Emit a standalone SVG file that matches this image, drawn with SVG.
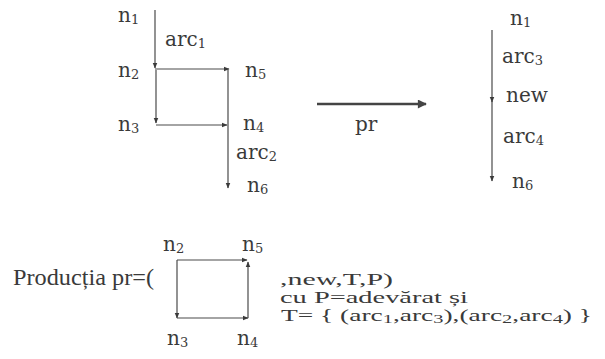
<svg xmlns="http://www.w3.org/2000/svg" width="605" height="359" viewBox="0 0 605 359">
<defs>
<style>
text{font-family:"DejaVu Serif","Liberation Serif",serif;fill:#3a3a3a;}
.lb{font-size:20px;}
.sb{font-size:13px;}
.tx{font-family:"Liberation Serif","DejaVu Serif",serif;font-size:17.5px;}
.pr{font-family:"Liberation Serif",serif;font-size:24px;}
.ln{stroke:#4a4a4a;stroke-width:1.2;fill:none;marker-end:url(#ah);}
.big{stroke:#444;stroke-width:2.4;fill:none;marker-end:url(#bh);}
</style>
<marker id="ah" viewBox="0 0 10 10" refX="9" refY="5" markerWidth="6" markerHeight="6" markerUnits="userSpaceOnUse" orient="auto">
<path d="M0,1 L10,5 L0,9 Z" fill="#3a3a3a"/>
</marker>
<marker id="bh" viewBox="0 0 10 10" refX="9" refY="5" markerWidth="10" markerHeight="9" markerUnits="userSpaceOnUse" orient="auto">
<path d="M0,0 L10,5 L0,10 Z" fill="#444"/>
</marker>
</defs>
<rect width="605" height="359" fill="#fff"/>
<g id="connectors">
<line class="ln" x1="155" y1="10" x2="155" y2="68"/>
<line class="ln" x1="155" y1="69" x2="229" y2="69"/>
<line class="ln" x1="156" y1="70" x2="156" y2="123"/>
<line class="ln" x1="156" y1="125" x2="227" y2="125"/>
<line class="ln" x1="228" y1="70" x2="228" y2="188"/>
<line class="big" x1="317" y1="104" x2="426" y2="104"/>
<line class="ln" x1="492" y1="30" x2="492" y2="102"/>
<line class="ln" x1="492" y1="100" x2="492" y2="181"/>
<line class="ln" x1="177" y1="260" x2="247" y2="260"/>
<line class="ln" x1="177" y1="260" x2="177" y2="318"/>
<line class="ln" x1="177" y1="318" x2="248" y2="318"/>
<line class="ln" x1="248" y1="318" x2="248" y2="262"/>
</g>
<g id="n1"><text class="lb" x="118" y="22">n<tspan class="sb" dy="2">1</tspan></text></g>
<g id="arc1"><text class="lb" x="165" y="46">arc<tspan class="sb" dy="2">1</tspan></text></g>
<g id="n2"><text class="lb" x="118" y="77">n<tspan class="sb" dy="2">2</tspan></text></g>
<g id="n5"><text class="lb" x="245" y="77">n<tspan class="sb" dy="2">5</tspan></text></g>
<g id="n3"><text class="lb" x="118" y="131">n<tspan class="sb" dy="2">3</tspan></text></g>
<g id="n4"><text class="lb" x="243" y="130">n<tspan class="sb" dy="2">4</tspan></text></g>
<g id="arc2"><text class="lb" x="236" y="159">arc<tspan class="sb" dy="2">2</tspan></text></g>
<g id="n6"><text class="lb" x="247" y="192">n<tspan class="sb" dy="2">6</tspan></text></g>
<g id="pr"><text class="lb" x="355" y="131">pr</text></g>
<g id="r-n1"><text class="lb" x="510" y="25">n<tspan class="sb" dy="2">1</tspan></text></g>
<g id="r-arc3"><text class="lb" x="502" y="63">arc<tspan class="sb" dy="2">3</tspan></text></g>
<g id="r-new"><text class="lb" x="506" y="102">new</text></g>
<g id="r-arc4"><text class="lb" x="503" y="143">arc<tspan class="sb" dy="2">4</tspan></text></g>
<g id="r-n6"><text class="lb" x="512" y="188">n<tspan class="sb" dy="2">6</tspan></text></g>
<g id="b-n2"><text class="lb" x="163" y="251">n<tspan class="sb" dy="2">2</tspan></text></g>
<g id="b-n5"><text class="lb" x="242" y="251">n<tspan class="sb" dy="2">5</tspan></text></g>
<g id="b-n3"><text class="lb" x="167" y="345">n<tspan class="sb" dy="2">3</tspan></text></g>
<g id="b-n4"><text class="lb" x="237" y="345">n<tspan class="sb" dy="2">4</tspan></text></g>
<g id="formula">
<text class="pr" x="13" y="285" textLength="141" lengthAdjust="spacingAndGlyphs">Producția pr=(</text>
<text class="tx" x="280" y="285" textLength="113" lengthAdjust="spacingAndGlyphs">,new,T,P)</text>
<text class="tx" x="280" y="303" textLength="188" lengthAdjust="spacingAndGlyphs">cu P=adevărat și</text>
<text class="tx" x="281" y="321" textLength="311" lengthAdjust="spacingAndGlyphs">T= { (arc<tspan class="sb" dy="2">1</tspan><tspan dy="-2">,arc</tspan><tspan class="sb" dy="2">3</tspan><tspan dy="-2">),(arc</tspan><tspan class="sb" dy="2">2</tspan><tspan dy="-2">,arc</tspan><tspan class="sb" dy="2">4</tspan><tspan dy="-2">) }</tspan></text>
</g>
</svg>
